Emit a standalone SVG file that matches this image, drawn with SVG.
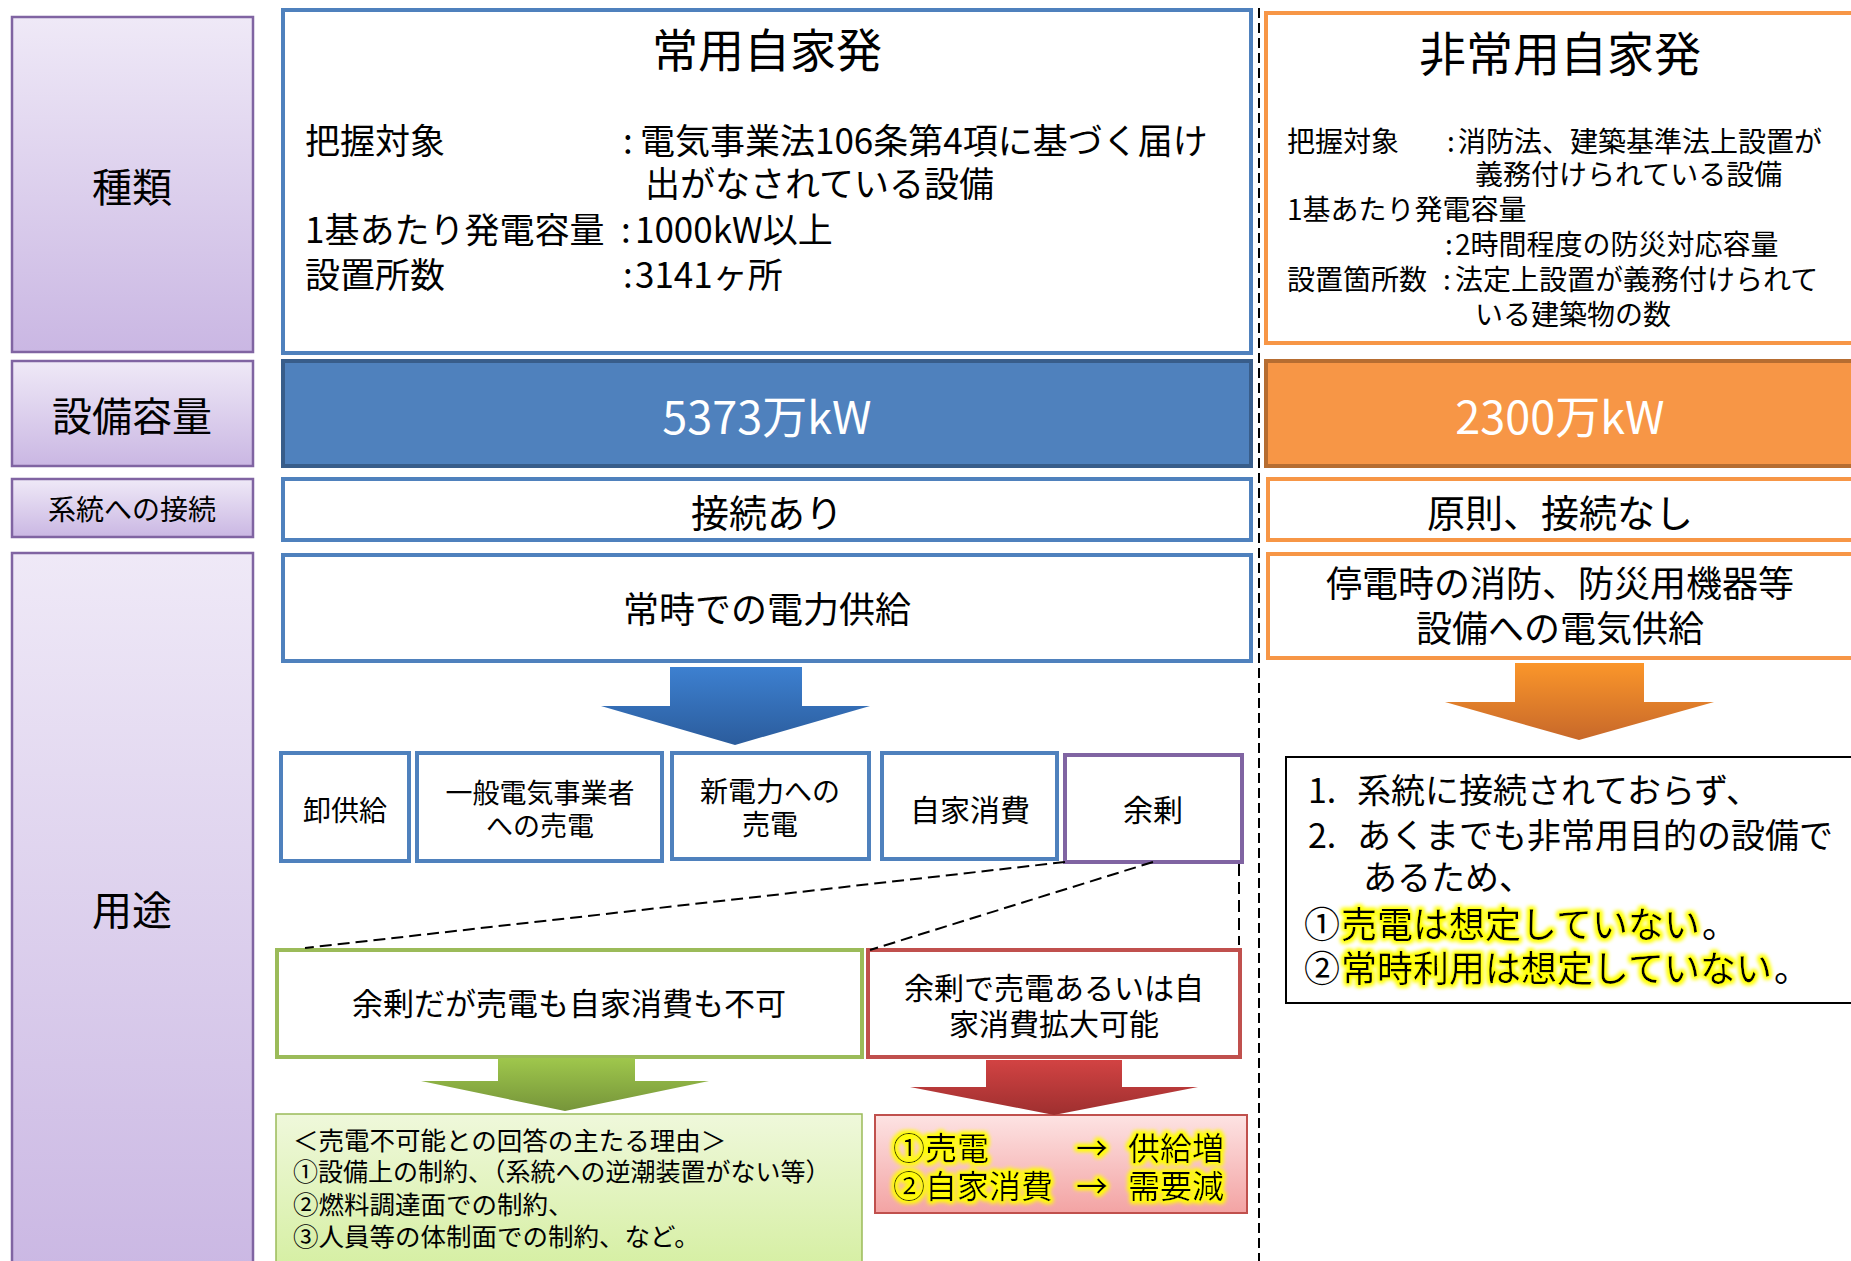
<svg xmlns="http://www.w3.org/2000/svg" width="1851" height="1261" viewBox="0 0 1851 1261">
<defs>
<linearGradient id="gLabel" x1="0" y1="0" x2="0" y2="1"><stop offset="0" stop-color="#efe9f7"/><stop offset="1" stop-color="#cab7e3"/></linearGradient>
<linearGradient id="gBlueArrow" x1="0" y1="0" x2="0" y2="1"><stop offset="0" stop-color="#3d80d0"/><stop offset="1" stop-color="#2b5c9c"/></linearGradient>
<linearGradient id="gOrangeArrow" x1="0" y1="0" x2="0" y2="1"><stop offset="0" stop-color="#fb962a"/><stop offset="1" stop-color="#c7682a"/></linearGradient>
<linearGradient id="gGreenArrow" x1="0" y1="0" x2="0" y2="1"><stop offset="0" stop-color="#9fc74c"/><stop offset="1" stop-color="#76953a"/></linearGradient>
<linearGradient id="gRedArrow" x1="0" y1="0" x2="0" y2="1"><stop offset="0" stop-color="#d24343"/><stop offset="1" stop-color="#9e2f2f"/></linearGradient>
<linearGradient id="gGreenBox" x1="0" y1="0" x2="0" y2="1"><stop offset="0" stop-color="#eff8db"/><stop offset="1" stop-color="#d3ee9d"/></linearGradient>
<linearGradient id="gPinkBox" x1="0" y1="0" x2="0" y2="1"><stop offset="0" stop-color="#fde3e3"/><stop offset="1" stop-color="#f3a3a3"/></linearGradient>
<filter id="glow" x="-10%" y="-40%" width="120%" height="180%">
<feMorphology in="SourceAlpha" operator="dilate" radius="2" result="d"/>
<feGaussianBlur in="d" stdDeviation="2" result="b"/>
<feFlood flood-color="#ffff00" flood-opacity="0.9"/>
<feComposite in2="b" operator="in" result="g"/>
<feMerge><feMergeNode in="g"/><feMergeNode in="g"/><feMergeNode in="SourceGraphic"/></feMerge>
</filter>
</defs>
<style>
text{font-family:"Noto Sans CJK JP","Noto Sans",sans-serif;fill:#000;dominant-baseline:central}
.c{text-anchor:middle}
.lab{fill:url(#gLabel);stroke:#8064a2;stroke-width:2.5}
.blue{fill:#fff;stroke:#4f81bd;stroke-width:4}
.orange{fill:#fff;stroke:#f79646;stroke-width:4}
.purple{fill:#fff;stroke:#8064a2;stroke-width:4}
.green{fill:#fff;stroke:#9bbb59;stroke-width:4}
.red{fill:#fff;stroke:#c0504d;stroke-width:4}
.dash{fill:none;stroke:#000;stroke-width:2;stroke-dasharray:12 6}
.w{fill:#fff}
.hl{filter:url(#glow)}
</style>
<rect width="1851" height="1261" fill="#fff"/>

<g id="label-shurui"><rect class="lab" x="12" y="17" width="241" height="335"/><text class="c" x="132" y="185" font-size="40">種類</text></g>
<g id="label-setsubi"><rect class="lab" x="12" y="361" width="241" height="105"/><text class="c" x="132" y="414" font-size="40">設備容量</text></g>
<g id="label-keito"><rect class="lab" x="12" y="479" width="241" height="58"/><text class="c" x="132" y="508" font-size="28">系統への接続</text></g>
<g id="label-youto"><rect class="lab" x="12" y="553" width="241" height="730"/><text class="c" x="132" y="908" font-size="40">用途</text></g>

<g id="joyo-main">
<rect class="blue" x="283" y="10" width="968" height="343"/>
<text class="c" x="767" y="47" font-size="46">常用自家発</text>
<text font-size="35"><tspan x="305" y="138">把握対象</tspan><tspan x="623" y="138">:</tspan><tspan x="640" y="138">電気事業法106条第4項に基づく届け</tspan><tspan x="645" y="181">出がなされている設備</tspan><tspan x="305" y="227">1基あたり発電容量</tspan><tspan x="621" y="227">:</tspan><tspan x="635" y="227">1000kW以上</tspan><tspan x="305" y="272">設置所数</tspan><tspan x="623" y="272">:</tspan><tspan x="635" y="272">3141ヶ所</tspan></text>
</g>
<g id="joyo-capacity"><rect x="283" y="361" width="968" height="105" fill="#4f81bd" stroke="#385d8a" stroke-width="4"/><text class="c w" x="767" y="414" font-size="45">5373万kW</text></g>
<g id="joyo-connect"><rect class="blue" x="283" y="479" width="968" height="61"/><text class="c" x="767" y="510" font-size="38">接続あり</text></g>
<g id="joyo-use"><rect class="blue" x="283" y="555" width="968" height="106"/><text class="c" x="767" y="607" font-size="36">常時での電力供給</text></g>

<g id="box-oroshi"><rect class="blue" x="281" y="753" width="128" height="108"/><text class="c" x="345" y="809" font-size="28">卸供給</text></g>
<g id="box-ippan"><rect class="blue" x="417" y="753" width="245" height="108"/><text class="c" font-size="27"><tspan x="540" y="791">一般電気事業者</tspan><tspan x="540" y="824">への売電</tspan></text></g>
<g id="box-shin"><rect class="blue" x="672" y="753" width="197" height="106"/><text class="c" font-size="28"><tspan x="770" y="790">新電力への</tspan><tspan x="770" y="823">売電</tspan></text></g>
<g id="box-jika"><rect class="blue" x="882" y="753" width="175" height="106"/><text class="c" x="970" y="808" font-size="30">自家消費</text></g>
<g id="box-yojo"><rect class="purple" x="1065" y="755" width="177" height="107"/><text class="c" x="1153" y="808" font-size="30">余剰</text></g>

<g id="box-yojo-fuka"><rect class="green" x="277" y="950" width="585" height="107"/><text class="c" x="569" y="1001" font-size="31">余剰だが売電も自家消費も不可</text></g>
<g id="box-yojo-kano"><rect class="red" x="868" y="950" width="372" height="107"/><text class="c" font-size="30"><tspan x="1054" y="986">余剰で売電あるいは自</tspan><tspan x="1054" y="1022">家消費拡大可能</tspan></text></g>

<g id="box-reason">
<rect x="276" y="1114" width="586" height="170" fill="url(#gGreenBox)" stroke="#9bbb59" stroke-width="1.5"/>
<text font-size="25.5"><tspan x="293" y="1138">＜売電不可能との回答の主たる理由＞</tspan><tspan x="293" y="1170" font-size="25">①設備上の制約、（系統への逆潮装置がない等）</tspan><tspan x="293" y="1202">②燃料調達面での制約、</tspan><tspan x="293" y="1234">③人員等の体制面での制約、など。</tspan></text>
</g>
<g id="box-effect">
<rect x="875" y="1115" width="372" height="98" fill="url(#gPinkBox)" stroke="#c0504d" stroke-width="2"/>
<text class="hl" font-size="32"><tspan x="893" y="1146">①売電</tspan><tspan x="1076" y="1146">→</tspan><tspan x="1128" y="1146">供給増</tspan><tspan x="893" y="1184">②自家消費</tspan><tspan x="1076" y="1184">→</tspan><tspan x="1128" y="1184">需要減</tspan></text>
</g>

<g id="hijo-main">
<rect class="orange" x="1266" y="13" width="620" height="330"/>
<text class="c" x="1560" y="50" font-size="47">非常用自家発</text>
<text font-size="28"><tspan x="1287" y="140">把握対象</tspan><tspan x="1447" y="140">:</tspan><tspan x="1458" y="140">消防法、建築基準法上設置が</tspan><tspan x="1475" y="173">義務付けられている設備</tspan><tspan x="1287" y="208">1基あたり発電容量</tspan><tspan x="1445" y="243">:</tspan><tspan x="1455" y="243">2時間程度の防災対応容量</tspan><tspan x="1287" y="278">設置箇所数</tspan><tspan x="1443" y="278">:</tspan><tspan x="1455" y="278">法定上設置が義務付けられて</tspan><tspan x="1475" y="313">いる建築物の数</tspan></text>
</g>
<g id="hijo-capacity"><rect x="1266" y="361" width="620" height="105" fill="#f79646" stroke="#b66d31" stroke-width="4"/><text class="c w" x="1560" y="414" font-size="45">2300万kW</text></g>
<g id="hijo-connect"><rect class="orange" x="1268" y="479" width="620" height="61"/><text class="c" x="1560" y="510" font-size="38">原則、接続なし</text></g>
<g id="hijo-use"><rect class="orange" x="1268" y="554" width="620" height="104"/><text class="c" font-size="36"><tspan x="1560" y="581">停電時の消防、防災用機器等</tspan><tspan x="1560" y="626">設備への電気供給</tspan></text></g>

<g id="hijo-note">
<rect x="1286" y="757" width="600" height="246" fill="#fff" stroke="#000" stroke-width="2"/>
<text font-size="34"><tspan x="1308" y="788">1.</tspan><tspan x="1357" y="788">系統に接続されておらず、</tspan><tspan x="1308" y="833">2.</tspan><tspan x="1357" y="833">あくまでも非常用目的の設備で</tspan><tspan x="1363" y="875">あるため、</tspan></text>
<text x="1304" y="922" font-size="36">①</text>
<text class="hl" x="1341" y="922" font-size="36">売電は想定していない</text>
<text x="1702" y="922" font-size="36">。</text>
<text x="1304" y="966" font-size="36">②</text>
<text class="hl" x="1341" y="966" font-size="36">常時利用は想定していない</text>
<text x="1774" y="966" font-size="36">。</text>
</g>

<g id="connectors">
<line x1="1259" y1="8" x2="1259" y2="1261" stroke="#000" stroke-width="2" stroke-dasharray="10 5"/>
<line class="dash" x1="1065" y1="862" x2="305" y2="948"/>
<line class="dash" x1="1153" y1="862" x2="870" y2="950"/>
<line class="dash" x1="1239" y1="864" x2="1239" y2="945"/>
<polygon points="670,667 802,667 802,706 870,706 735,745 601,706 670,706" fill="url(#gBlueArrow)"/>
<polygon points="1515,663 1644,663 1644,702 1714,702 1579,740 1445,702 1515,702" fill="url(#gOrangeArrow)"/>
<polygon points="498,1058 635,1058 635,1081 709,1081 565,1111 421,1081 498,1081" fill="url(#gGreenArrow)"/>
<polygon points="986,1060 1122,1060 1122,1087 1198,1087 1054,1115 910,1087 986,1087" fill="url(#gRedArrow)"/>
</g>
</svg>
